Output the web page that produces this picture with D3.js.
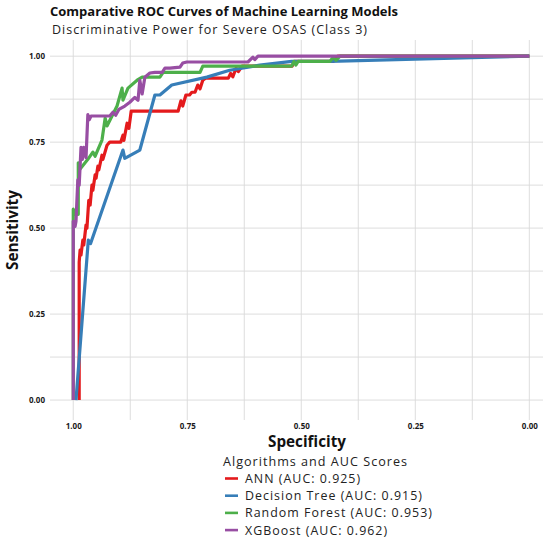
<!DOCTYPE html>
<html lang="en">
<head>
<meta charset="UTF-8">
<title>Comparative ROC Curves of Machine Learning Models</title>
<script src="https://d3js.org/d3.v7.min.js"></script>
<style>
    body { margin: 0; background: #ffffff; }
    svg { display: block; font-family: "Open Sans", "Noto Sans", sans-serif; }
</style>
</head>
<body>
<script>
    // ---- data (specificity, sensitivity) ----
    const modelNames = ["ANN", "Decision Tree", "Random Forest", "XGBoost"];
    const modelAuc = [0.925, 0.915, 0.953, 0.962];
    const modelColors = ["#e41a1c", "#377eb8", "#4daf4a", "#984ea3"];

    const annPoints = [
        [0.987, 0.000], [0.987, 0.401], [0.985, 0.436], [0.983, 0.422], [0.979, 0.465],
        [0.977, 0.451], [0.972, 0.509], [0.970, 0.500], [0.966, 0.581], [0.963, 0.567],
        [0.959, 0.625], [0.957, 0.610], [0.952, 0.655], [0.950, 0.645], [0.946, 0.680],
        [0.944, 0.669], [0.937, 0.712], [0.935, 0.700], [0.926, 0.741], [0.920, 0.750],
        [0.896, 0.750], [0.891, 0.770], [0.889, 0.755], [0.882, 0.805], [0.878, 0.790],
        [0.873, 0.840], [0.770, 0.840], [0.764, 0.870], [0.760, 0.855], [0.753, 0.887],
        [0.745, 0.887], [0.740, 0.895], [0.733, 0.895], [0.727, 0.916], [0.722, 0.905],
        [0.716, 0.930], [0.710, 0.936], [0.660, 0.936], [0.655, 0.950], [0.650, 0.940],
        [0.643, 0.965], [0.638, 0.955], [0.630, 0.971], [0.520, 0.971], [0.515, 0.985],
        [0.430, 0.985], [0.420, 1.000], [0.000, 1.000]
    ];
    const treePoints = [
        [0.994, 0.000], [0.967, 0.465], [0.962, 0.455], [0.891, 0.727], [0.887, 0.703],
        [0.854, 0.727], [0.821, 0.887], [0.810, 0.887], [0.784, 0.916], [0.707, 0.939],
        [0.657, 0.959], [0.591, 0.974], [0.521, 0.985], [0.437, 0.985], [0.000, 1.000]
    ];
    const forestPoints = [
        [1.000, 0.000], [1.000, 0.555], [0.996, 0.540], [0.989, 0.540], [0.989, 0.690],
        [0.985, 0.672], [0.968, 0.700], [0.957, 0.721], [0.952, 0.709], [0.937, 0.756],
        [0.930, 0.820], [0.926, 0.797], [0.915, 0.826], [0.904, 0.855], [0.893, 0.907],
        [0.891, 0.872], [0.880, 0.907], [0.860, 0.930], [0.849, 0.939], [0.810, 0.939],
        [0.803, 0.953], [0.722, 0.953], [0.716, 0.971], [0.521, 0.971], [0.516, 0.985],
        [0.512, 0.974], [0.507, 0.985], [0.437, 0.985], [0.430, 0.997], [0.424, 0.988],
        [0.415, 1.000], [0.000, 1.000]
    ];
    const xgbPoints = [
        [1.000, 0.000], [1.000, 0.520], [0.996, 0.505], [0.994, 0.520], [0.990, 0.640],
        [0.987, 0.625], [0.983, 0.735], [0.980, 0.700], [0.977, 0.735], [0.972, 0.705],
        [0.968, 0.830], [0.965, 0.815], [0.961, 0.826], [0.920, 0.826], [0.913, 0.837],
        [0.907, 0.828], [0.900, 0.845], [0.887, 0.855], [0.876, 0.866], [0.865, 0.880],
        [0.858, 0.872], [0.854, 0.930], [0.849, 0.890], [0.843, 0.939], [0.832, 0.951],
        [0.821, 0.953], [0.805, 0.953], [0.799, 0.965], [0.788, 0.965], [0.766, 0.968],
        [0.760, 0.980], [0.751, 0.983], [0.617, 0.983], [0.606, 0.997], [0.602, 0.990],
        [0.595, 1.000], [0.000, 1.000]
    ];
    const modelPoints = [annPoints, treePoints, forestPoints, xgbPoints];

    const majorTicks = [0, 0.25, 0.5, 0.75, 1];
    const minorTicks = [0.125, 0.375, 0.625, 0.875];

    // ---- layout ----
    const W = 550, H = 543;
    const panel = { left: 50, right: 543, top: 40, bottom: 420 };

    const svg = d3.select("body").append("svg")
        .attr("width", W)
        .attr("height", H);

    // specificity is drawn reversed (1 on the left)
    const x = d3.scaleLinear().domain([1.051, -0.030]).range([panel.left, panel.right]);
    const y = d3.scaleLinear().domain([-0.058, 1.047]).range([panel.bottom, panel.top]);

    // grid
    const grid = svg.append("g");
    [...minorTicks, ...majorTicks].forEach(v => {
        grid.append("line")
            .attr("x1", x(v)).attr("x2", x(v))
            .attr("y1", panel.top).attr("y2", panel.bottom)
            .attr("stroke", "#d9d9d9").attr("stroke-width", 0.9);
        grid.append("line")
            .attr("x1", panel.left).attr("x2", panel.right)
            .attr("y1", y(v)).attr("y2", y(v))
            .attr("stroke", "#d9d9d9").attr("stroke-width", 0.9);
    });

    // axes (labels only)
    const yAxis = svg.append("g")
        .attr("transform", `translate(${panel.left},0)`)
        .call(d3.axisLeft(y).tickValues(majorTicks).tickFormat(d3.format(".2f")).tickSize(0).tickPadding(5));
    const xAxis = svg.append("g")
        .attr("transform", `translate(0,${panel.bottom})`)
        .call(d3.axisBottom(x).tickValues(majorTicks).tickFormat(d3.format(".2f")).tickSize(0).tickPadding(3));
    [yAxis, xAxis].forEach(a => {
        a.select(".domain").remove();
        a.selectAll("text")
            .attr("font-family", "'Open Sans', sans-serif")
            .attr("font-size", 8)
            .attr("font-weight", 700)
            .attr("fill", "#1a1a1a");
    });

    // curves
    const line = d3.line()
        .x(d => x(d[0]))
        .y(d => y(d[1]));

    svg.append("g").selectAll("path")
        .data(modelPoints)
        .enter()
        .append("path")
        .attr("d", d => line(d))
        .attr("fill", "none")
        .attr("stroke", (d, i) => modelColors[i])
        .attr("stroke-width", 3.2)
        .attr("stroke-linejoin", "round")
        .attr("stroke-linecap", "butt");

    // helper: scale a text's font size to a measured width
    function fitWidth(sel, target) {
        const w = sel.node().getComputedTextLength();
        const fs = parseFloat(sel.attr("font-size"));
        sel.attr("font-size", fs * target / w);
        return fs * target / w;
    }
    // helper: keep font size, reach the width with letter spacing
    function fitSpacing(sel, target) {
        const w = sel.node().getComputedTextLength();
        const n = sel.text().length;
        sel.attr("letter-spacing", (target - w) / n);
    }

    // titles
    const title = svg.append("text")
        .attr("x", 50).attr("y", 16)
        .attr("font-size", 13).attr("font-weight", 700).attr("fill", "#111")
        .text("Comparative ROC Curves of Machine Learning Models");
    fitSpacing(title, 348);

    const subtitle = svg.append("text")
        .attr("x", 52).attr("y", 33.5)
        .attr("font-size", 12.5).attr("fill", "#222")
        .text("Discriminative Power for Severe OSAS (Class 3)");
    fitSpacing(subtitle, 316);

    const xTitle = svg.append("text")
        .attr("x", 307).attr("y", 447)
        .attr("text-anchor", "middle")
        .attr("font-size", 15).attr("font-weight", 700).attr("fill", "#111")
        .text("Specificity");
    fitWidth(xTitle, 78);

    const yTitle = svg.append("text")
        .attr("transform", `translate(18,230) rotate(-90)`)
        .attr("text-anchor", "middle")
        .attr("font-size", 15).attr("font-weight", 700).attr("fill", "#111")
        .text("Sensitivity");
    fitWidth(yTitle, 80);

    // legend
    const legend = svg.append("g");
    const legendTitle = legend.append("text")
        .attr("x", 223).attr("y", 466)
        .attr("font-size", 12.6).attr("fill", "#222")
        .text("Algorithms and AUC Scores");
    fitSpacing(legendTitle, 185);

    const items = legend.selectAll(".legend-item")
        .data(modelNames)
        .enter()
        .append("g")
        .attr("class", "legend-item")
        .attr("transform", (d, i) => `translate(0,${483 + i * 17.2})`);

    items.append("line")
        .attr("x1", 225).attr("x2", 238)
        .attr("y1", -4.5).attr("y2", -4.5)
        .attr("stroke", (d, i) => modelColors[i])
        .attr("stroke-width", 2.6);

    const labels = items.append("text")
        .attr("x", 245).attr("y", 0)
        .attr("font-size", 12.4).attr("fill", "#222")
        .text((d, i) => `${d} (AUC: ${modelAuc[i].toFixed(3)})`);

    // same spacing for every item, taken from the widest-known one
    const ref = d3.select(labels.nodes()[1]);
    fitSpacing(ref, 178);
    labels.attr("letter-spacing", ref.attr("letter-spacing"));
</script>
</body>
</html>
